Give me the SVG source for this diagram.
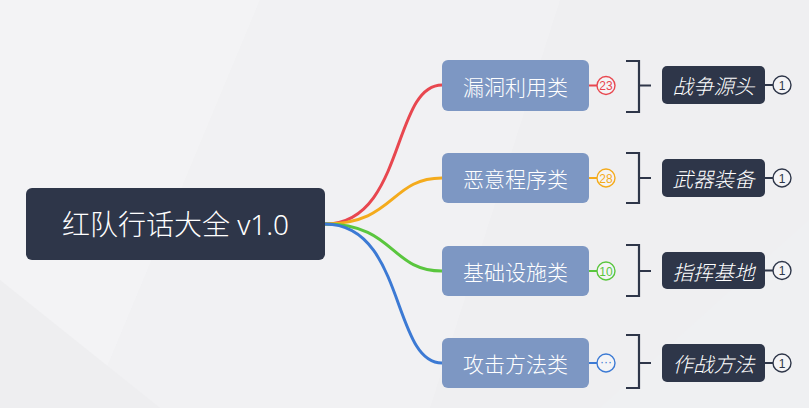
<svg xmlns="http://www.w3.org/2000/svg" width="809" height="408" viewBox="0 0 809 408">
<defs>
<style>
.bg{fill:#eff0f2}
.root rect{fill:#2e3649}
.root text{fill:#ffffff;font-family:"Noto Sans","Noto Sans CJK SC",sans-serif;font-size:28px;font-weight:300;text-anchor:middle;dominant-baseline:central}
.mid rect{fill:#7d97c3}
.mid text{fill:#ffffff;font-family:"Noto Sans CJK SC",sans-serif;font-size:21px;font-weight:300;text-anchor:middle;dominant-baseline:central}
.leaf rect{fill:#2e3649}
.leaf text{fill:#ffffff;font-family:"Noto Sans CJK SC",sans-serif;font-size:20.5px;font-weight:300;font-style:italic;text-anchor:middle;dominant-baseline:central}
.badge circle{fill:#f4f4f6;stroke-width:1.4}
.badge text{font-family:"Liberation Sans",sans-serif;font-size:12px;text-anchor:middle;dominant-baseline:central}
.badge line{stroke-width:2}
.br{fill:none;stroke:#2e3649;stroke-width:2.2}
.conn path{fill:none;stroke-width:3;stroke-linecap:round}
</style>
</defs>
<rect class="bg" x="0" y="0" width="809" height="408"/>
<polygon points="0,0 260,0 90,408 0,408" fill="#f3f3f5"/>
<polygon points="260,0 560,0 430,408 90,408" fill="#f1f1f3"/>
<polygon points="560,0 809,0 809,220 600,408 430,408" fill="#efeff1"/>
<polygon points="0,280 160,408 0,408" fill="#eeeef0"/>

<g id="connectors" class="conn">
<path d="M325,224 C405,224 392,85 442,85" stroke="#e8474f"/>
<path d="M325,224 C395,224 390,178 442,178" stroke="#f4ab1c"/>
<path d="M325,224 C395,224 390,271 442,271" stroke="#5ac63e"/>
<path d="M325,224 C405,224 392,363 442,363" stroke="#3c7ad4"/>
</g>

<g id="root" class="root">
<rect x="26" y="188" width="299" height="72" rx="6"/>
<text x="175.5" y="224">红队行话大全 v1.0</text>
</g>

<g id="n1" class="mid">
<rect x="442" y="60" width="147" height="51" rx="6"/>
<text x="515.5" y="85.5">漏洞利用类</text>
</g>
<g id="n2" class="mid">
<rect x="442" y="153" width="147" height="50" rx="6"/>
<text x="515.5" y="178">恶意程序类</text>
</g>
<g id="n3" class="mid">
<rect x="442" y="246" width="147" height="50" rx="6"/>
<text x="515.5" y="271">基础设施类</text>
</g>
<g id="n4" class="mid">
<rect x="442" y="338" width="147" height="50" rx="6"/>
<text x="515.5" y="363">攻击方法类</text>
</g>

<g id="b1" class="badge">
<line x1="589" y1="85.5" x2="597" y2="85.5" stroke="#e8474f"/>
<circle cx="606" cy="85.5" r="9" stroke="#e8474f"/>
<text x="606" y="86" fill="#e8474f">23</text>
</g>
<g id="b2" class="badge">
<line x1="589" y1="178" x2="597" y2="178" stroke="#f4ab1c"/>
<circle cx="606" cy="178" r="9" stroke="#f4ab1c"/>
<text x="606" y="178.5" fill="#f4ab1c">28</text>
</g>
<g id="b3" class="badge">
<line x1="589" y1="271" x2="597" y2="271" stroke="#5ac63e"/>
<circle cx="606" cy="271" r="9" stroke="#5ac63e"/>
<text x="606" y="271.5" fill="#5ac63e">10</text>
</g>
<g id="b4" class="badge">
<line x1="589" y1="363" x2="597" y2="363" stroke="#3c7ad4"/>
<circle cx="606" cy="363" r="9" stroke="#3c7ad4"/>
<text x="606" y="362" fill="#3c7ad4">···</text>
</g>

<g id="brackets">
<path class="br" d="M626,61 H639 V112 H626 M639,85.5 H651"/>
<path class="br" d="M626,153 H639 V203 H626 M639,178 H651"/>
<path class="br" d="M626,245 H639 V296 H626 M639,271 H651"/>
<path class="br" d="M626,335 H639 V388 H626 M639,363 H651"/>
</g>

<g id="c1" class="leaf">
<rect x="662" y="66" width="103" height="38" rx="5"/>
<text x="713.5" y="85">战争源头</text>
</g>
<g id="c2" class="leaf">
<rect x="662" y="159" width="103" height="38" rx="5"/>
<text x="713.5" y="178">武器装备</text>
</g>
<g id="c3" class="leaf">
<rect x="662" y="252" width="103" height="37" rx="5"/>
<text x="713.5" y="270.5">指挥基地</text>
</g>
<g id="c4" class="leaf">
<rect x="662" y="344" width="103" height="38" rx="5"/>
<text x="713.5" y="363">作战方法</text>
</g>

<g id="cb1" class="badge">
<line x1="765" y1="85" x2="773" y2="85" stroke="#2e3649"/>
<circle cx="782" cy="85" r="9" stroke="#2e3649"/>
<text x="782" y="85.5" fill="#2e3649">1</text>
</g>
<g id="cb2" class="badge">
<line x1="765" y1="178" x2="773" y2="178" stroke="#2e3649"/>
<circle cx="782" cy="178" r="9" stroke="#2e3649"/>
<text x="782" y="178.5" fill="#2e3649">1</text>
</g>
<g id="cb3" class="badge">
<line x1="765" y1="270.5" x2="773" y2="270.5" stroke="#2e3649"/>
<circle cx="782" cy="270.5" r="9" stroke="#2e3649"/>
<text x="782" y="271" fill="#2e3649">1</text>
</g>
<g id="cb4" class="badge">
<line x1="765" y1="363" x2="773" y2="363" stroke="#2e3649"/>
<circle cx="782" cy="363" r="9" stroke="#2e3649"/>
<text x="782" y="363.5" fill="#2e3649">1</text>
</g>
</svg>
